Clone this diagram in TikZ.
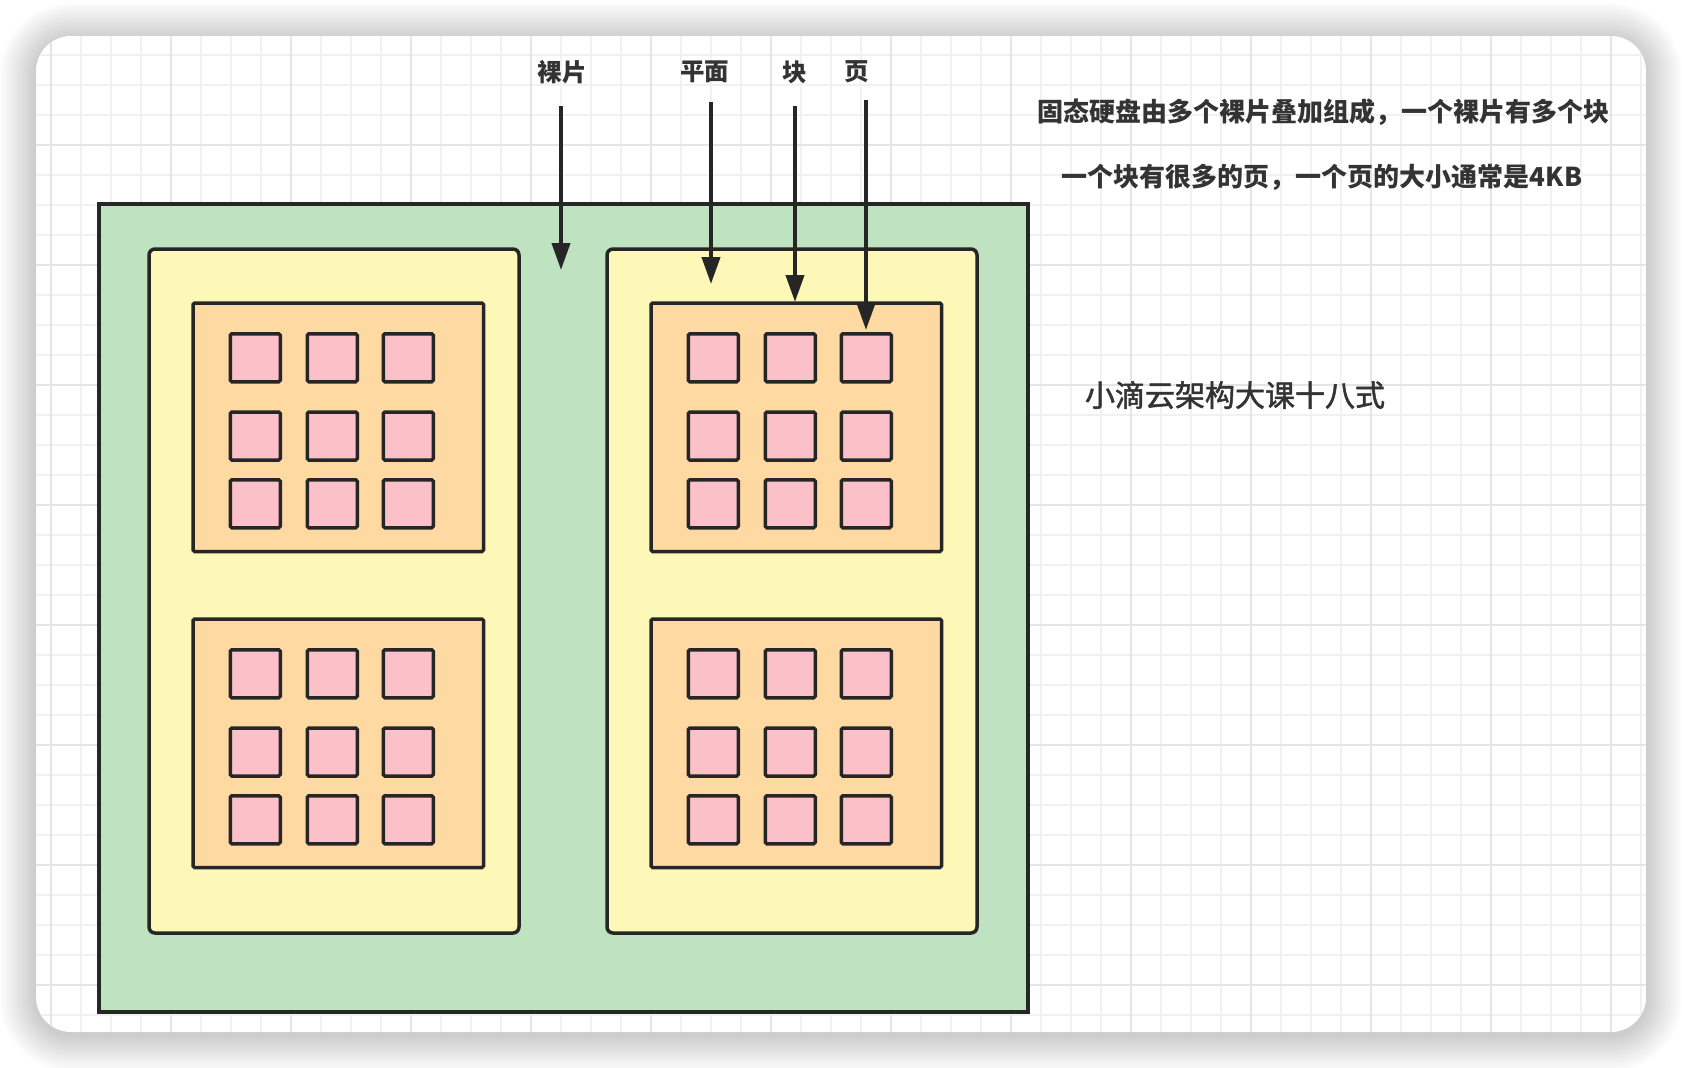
\documentclass[tikz,border=0pt]{standalone}
\usepackage{fontspec}
\setmainfont{Noto Sans CJK SC}
\newfontfamily\ttlfont{Noto Sans CJK SC}[FakeBold=1.6]
\usetikzlibrary{arrows.meta}
\definecolor{gridminor}{HTML}{F1F1F1}
\definecolor{gridmajor}{HTML}{E5E5E5}
\definecolor{ink}{HTML}{262626}
\definecolor{ssdgreen}{HTML}{BFE2C0}
\definecolor{dieyellow}{HTML}{FEF8B8}
\definecolor{planeorange}{HTML}{FED9A1}
\definecolor{pagepink}{HTML}{FCC1C8}
\definecolor{txt}{HTML}{333333}
\begin{document}
\begin{tikzpicture}[x=1pt,y=-1pt,
  box/.style={draw=ink, line width=3.5pt, inner sep=0pt, anchor=center},
  ssd/.style={box, fill=ssdgreen, minimum width=929pt, minimum height=808pt},
  die/.style={box, fill=dieyellow, rounded corners=6pt, minimum width=370pt, minimum height=684pt},
  plane/.style={box, fill=planeorange, rounded corners=1.5pt, minimum width=290.5pt, minimum height=248.5pt},
  pg/.style={box, fill=pagepink, rounded corners=1.5pt, minimum width=50pt, minimum height=48pt},
  arr/.style={draw=ink, line width=4pt, -{Triangle[length=27pt,width=18pt]}},
  lbl/.style={text=txt, font=\fontsize{24.5pt}{28pt}\selectfont\bfseries, inner sep=0pt},
  note/.style={text=txt, font=\fontsize{26pt}{30pt}\selectfont\bfseries, inner sep=0pt},
  ttl/.style={text=txt, font=\ttlfont\fontsize{30pt}{34pt}\selectfont, inner sep=0pt},
  minor/.style={draw=gridminor, line width=1.5pt},
  major/.style={draw=gridmajor, line width=1.5pt}
]
\useasboundingbox (0,0) rectangle (1682,1068);
\fill[white] (0,0) rectangle (1682,1068);
% shadow
\foreach \i in {1,...,25} {
  \pgfmathsetmacro{\d}{\i*1.45}
  \fill[black, opacity=0.006, rounded corners=35+\d] (36-\d,39-\d) rectangle (1646+\d,1035+\d);
}
% card with grid
\begin{scope}
  \clip[rounded corners=35] (36,36) rectangle (1646,1032);
  \fill[white] (36,36) rectangle (1646,1032);
  \foreach \x in {21,51,...,1641} \draw[minor] (\x,0) -- (\x,1068);
  \foreach \y in {25,55,...,1045} \draw[minor] (0,\y) -- (1682,\y);
  \foreach \x in {51,171,...,1611} \draw[major] (\x,0) -- (\x,1068);
  \foreach \y in {25,145,...,1045} \draw[major] (0,\y) -- (1682,\y);
\end{scope}
% SSD, dies, planes, pages
\node[ssd] (ssd) at (563.5,608) {};
\node[die] (dieL) at (334,591) {};
\node[die] (dieR) at (792,591) {};
\foreach \n/\cx/\cy in {lt/338.25/427.25, lb/338.25/743.25, rt/796.25/427.25, rb/796.25/743.25} {
  \node[plane] (pl-\n) at (\cx,\cy) {};
  \foreach \c/\dx in {1/-83, 2/-6, 3/70}
    \foreach \r/\dy in {1/-69.5, 2/8.75, 3/76.5}
      \node[pg] (pg-\n-\r-\c) at (\cx+\dx,\cy+\dy) {};
}
% labels and arrows
\node[lbl] (l1) at (562,72) {裸片};
\node[lbl] (l2) at (704.5,72) {平面};
\node[lbl] (l3) at (795,72) {块};
\node[lbl] (l4) at (857,72) {页};
\coordinate (s1) at (561,106);  \coordinate (t1) at (561,270);
\coordinate (s2) at (711,102);  \coordinate (t2) at (711,284);
\coordinate (s3) at (795,106);  \coordinate (t3) at (795,302);
\coordinate (s4) at (866,100);  \coordinate (t4) at (866,330);
\draw[arr] (s1) -- (t1);
\draw[arr] (s2) -- (t2);
\draw[arr] (s3) -- (t3);
\draw[arr] (s4) -- (t4);
% notes
\node[note] (n1) at (1323,112) {固态硬盘由多个裸片叠加组成，一个裸片有多个块};
\node[note] (n2) at (1322,177) {一个块有很多的页，一个页的大小通常是4KB};
\node[ttl] (tt) at (1235,395) {小滴云架构大课十八式};
\end{tikzpicture}
\end{document}
